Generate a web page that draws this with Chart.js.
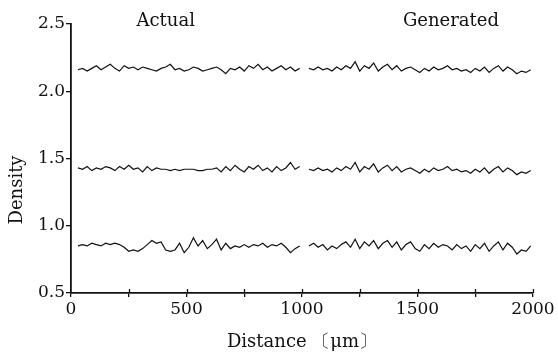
<!DOCTYPE html>
<html>
<head>
<meta charset="utf-8">
<script src="https://cdn.jsdelivr.net/npm/chart.js@4/dist/chart.umd.min.js"></script>
<style>
html,body{margin:0;padding:0;background:#fff;}
#wrap{width:558px;height:353px;}
</style>
</head>
<body>
<div id="wrap"><canvas id="c" width="558" height="353"></canvas></div>
<script>
// Distance sampling positions (µm)
const actualDist = [30,50,70,90,110,130,150,170,190,210,230,250,270,290,310,330,350,370,390,410,430,450,470,490,510,530,550,570,590,610,630,650,670,690,710,730,750,770,790,810,830,850,870,890,910,930,950,970,990];
const generatedDist = [1030,1050,1070,1090,1110,1130,1150,1170,1190,1210,1230,1250,1270,1290,1310,1330,1350,1370,1390,1410,1430,1450,1470,1490,1510,1530,1550,1570,1590,1610,1630,1650,1670,1690,1710,1730,1750,1770,1790,1810,1830,1850,1870,1890,1910,1930,1950,1970,1990];

// Density traces
const topActual = [2.16,2.17,2.15,2.17,2.19,2.16,2.18,2.20,2.17,2.15,2.19,2.17,2.18,2.16,2.18,2.17,2.16,2.15,2.17,2.18,2.20,2.16,2.17,2.15,2.16,2.18,2.17,2.15,2.16,2.17,2.18,2.16,2.13,2.17,2.16,2.18,2.15,2.19,2.17,2.20,2.16,2.18,2.15,2.17,2.19,2.16,2.18,2.15,2.17];
const topGenerated = [2.17,2.16,2.18,2.16,2.17,2.15,2.18,2.16,2.19,2.17,2.22,2.15,2.19,2.17,2.21,2.15,2.18,2.20,2.16,2.19,2.15,2.17,2.18,2.16,2.14,2.17,2.15,2.18,2.16,2.17,2.19,2.16,2.17,2.15,2.16,2.14,2.17,2.15,2.18,2.14,2.17,2.19,2.15,2.18,2.16,2.13,2.15,2.14,2.16];
const midActual = [1.43,1.42,1.44,1.41,1.43,1.42,1.44,1.43,1.41,1.44,1.42,1.45,1.42,1.43,1.40,1.44,1.41,1.43,1.42,1.42,1.41,1.42,1.41,1.42,1.42,1.42,1.41,1.41,1.42,1.42,1.43,1.40,1.44,1.41,1.45,1.42,1.40,1.44,1.42,1.45,1.41,1.43,1.40,1.44,1.41,1.43,1.47,1.42,1.44];
const midGenerated = [1.42,1.41,1.43,1.41,1.42,1.40,1.43,1.41,1.44,1.42,1.47,1.40,1.44,1.42,1.46,1.40,1.43,1.45,1.41,1.44,1.40,1.42,1.43,1.41,1.39,1.42,1.40,1.43,1.41,1.42,1.44,1.41,1.42,1.40,1.41,1.39,1.42,1.40,1.43,1.39,1.42,1.44,1.40,1.43,1.41,1.38,1.40,1.39,1.41];
const lowActual = [0.85,0.86,0.85,0.87,0.86,0.85,0.87,0.86,0.87,0.86,0.84,0.81,0.82,0.81,0.83,0.86,0.89,0.87,0.88,0.82,0.81,0.82,0.87,0.80,0.84,0.91,0.85,0.89,0.83,0.86,0.90,0.82,0.87,0.83,0.85,0.84,0.86,0.84,0.86,0.85,0.87,0.84,0.86,0.85,0.87,0.84,0.80,0.83,0.85];
const lowGenerated = [0.85,0.87,0.84,0.86,0.82,0.85,0.83,0.86,0.88,0.84,0.90,0.83,0.88,0.85,0.89,0.83,0.87,0.89,0.84,0.88,0.82,0.86,0.88,0.83,0.81,0.86,0.83,0.87,0.84,0.86,0.85,0.82,0.86,0.83,0.85,0.81,0.86,0.83,0.87,0.81,0.85,0.88,0.82,0.87,0.84,0.79,0.82,0.81,0.85];

const yTicks = ['0.5','1.0','1.5','2.0','2.5'];
const xLabelTicks = [0,500,1000,1500,2000];
const panelLabels = ['Actual','Generated'];
const panelLabelAt = [410, 1645];
const xTitle = 'Distance \u3014\u03bcm\u3015';
const yTitle = 'Density';

const INK = '#111';
const SERIF = '"DejaVu Serif", "Liberation Serif", serif';

function pts(xs, ys){ return xs.map((x,i)=>({x:x,y:ys[i]})); }
function ds(label, xs, ys){
  return {label:label, data:pts(xs,ys), showLine:true, borderColor:'#111', borderWidth:1.2,
          pointRadius:0, tension:0, fill:false};
}

const annot = {
  id:'annot',
  afterDraw(chart){
    const ctx = chart.ctx, xs = chart.scales.x, ys = chart.scales.y;
    ctx.save();
    // inward halves of the x ticks
    ctx.strokeStyle = INK; ctx.lineWidth = 1.3;
    for(let v=250; v<=2000; v+=250){
      const px = Math.round(xs.getPixelForValue(v))+0.5;
      ctx.beginPath(); ctx.moveTo(px, ys.bottom); ctx.lineTo(px, ys.bottom-4); ctx.stroke();
    }
    ctx.fillStyle = INK;
    ctx.textAlign = 'center'; ctx.textBaseline = 'middle';
    ctx.font = '18px ' + SERIF;
    panelLabels.forEach((t,i)=>{
      ctx.fillText(t, xs.getPixelForValue(panelLabelAt[i]), 21);
    });
    // y title
    ctx.translate(17, 190);
    ctx.rotate(-Math.PI/2);
    ctx.font = '18px ' + SERIF;
    ctx.fillText(yTitle, 0, 0);
    ctx.restore();
  }
};

new Chart(document.getElementById('c'), {
  type:'scatter',
  data:{datasets:[
    ds('Actual top', actualDist, topActual),
    ds('Generated top', generatedDist, topGenerated),
    ds('Actual middle', actualDist, midActual),
    ds('Generated middle', generatedDist, midGenerated),
    ds('Actual bottom', actualDist, lowActual),
    ds('Generated bottom', generatedDist, lowGenerated)
  ]},
  options:{
    responsive:false, animation:false, devicePixelRatio:1,
    layout:{padding:{top:24,right:25,left:0,bottom:0}},
    plugins:{legend:{display:false}, tooltip:{enabled:false}},
    scales:{
      x:{type:'linear', min:0, max:2000,
        border:{display:true, color:INK, width:1.8},
        grid:{drawOnChartArea:false, drawTicks:true, tickLength:4, color:INK, lineWidth:1.3},
        ticks:{stepSize:250, autoSkip:false, maxRotation:0, padding:2, color:INK,
          font:{family:SERIF, size:17},
          callback:(v)=> xLabelTicks.includes(v) ? String(v) : ''},
        title:{display:true, text:xTitle, color:INK, font:{family:SERIF, size:18}, padding:{top:2,bottom:0}},
        afterFit(s){ s.height = 60; }
      },
      y:{type:'linear', min:0.5, max:2.5,
        border:{display:true, color:INK, width:1.8},
        grid:{drawOnChartArea:false, drawTicks:true, tickLength:5, color:INK, lineWidth:1.3},
        ticks:{stepSize:0.5, padding:1, color:INK, font:{family:SERIF, size:17},
          callback:(v)=>{ const i = Math.round((v-0.5)/0.5); return yTicks[i] ?? ''; }},
        afterFit(s){ s.width = 71; }
      }
    }
  },
  plugins:[annot]
});
</script>
</body>
</html>
